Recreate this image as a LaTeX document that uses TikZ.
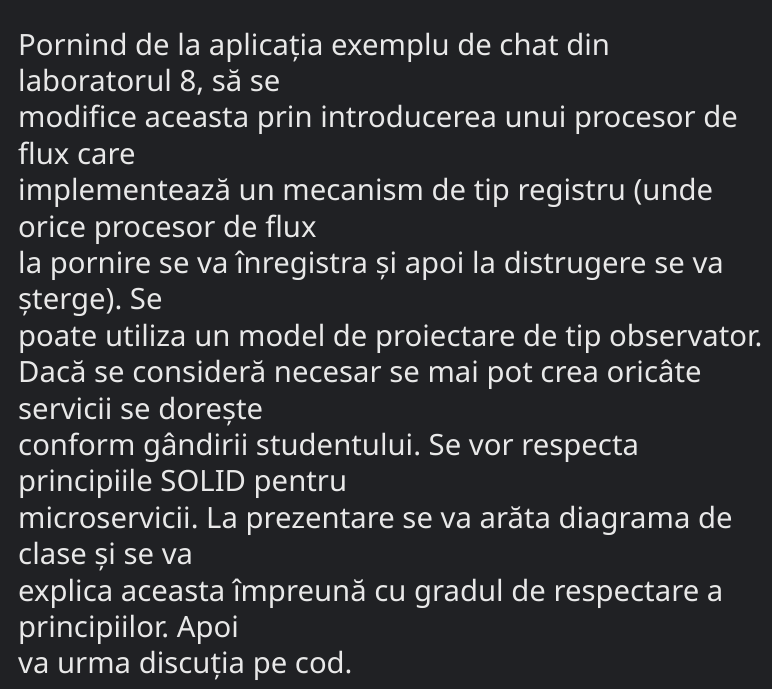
\documentclass[tikz,border=0pt]{standalone}
\usepackage{fontspec}
\setmainfont{Noto Sans}
\usetikzlibrary{positioning}
\definecolor{screenBg}{RGB}{32, 33, 36}
\definecolor{textWhite}{RGB}{232, 232, 232}
\frenchspacing

\begin{document}
\begin{tikzpicture}[
            x=1pt, y=1pt,
            % Define text line style
            textline/.style={
                anchor=base west,
                inner sep=0pt,
                text=textWhite,
                font=\fontsize{29.3}{35}\selectfont
            }
        ]

        % --- Background ---
        \fill[screenBg] (0,0) rectangle (772,-689);
        \useasboundingbox (0,0) rectangle (772,-689);

        % --- Lines of text ---
        \foreach \txt [count=\i] in {
            {Pornind de la aplicația exemplu de chat din},
            {laboratorul 8, să se},
            {modifice aceasta prin introducerea unui procesor de},
            {flux care},
            {implementează un mecanism de tip registru (unde},
            {orice procesor de flux},
            {la pornire se va înregistra și apoi la distrugere se va},
            {șterge). Se},
            {poate utiliza un model de proiectare de tip observator.},
            {Dacă se consideră necesar se mai pot crea oricâte},
            {servicii se dorește},
            {conform gândirii studentului. Se vor respecta},
            {principiile SOLID pentru},
            {microservicii. La prezentare se va arăta diagrama de},
            {clase și se va},
            {explica aceasta împreună cu gradul de respectare a},
            {principiilor. Apoi},
            {va urma discuția pe cod.}}
            \node [textline] (line\i) at (18, {-55-36.4*(\i-1)}) {\txt};

\end{tikzpicture}
\end{document}
